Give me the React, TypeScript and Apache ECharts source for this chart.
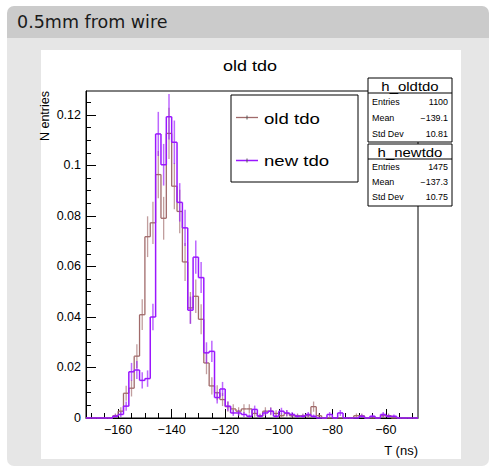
import React, { useEffect, useRef } from "react";
import * as echarts from "echarts";

// ---- data ----
const BIN_START = -172;
const BIN_WIDTH = 2;
const X_MIN = -172;
const X_MAX = -48;
const Y_MAX = 0.1295;
const OLD_ENTRIES = 1100;
const NEW_ENTRIES = 1475;

const oldTdo = [
  0, 0, 0, 0, 0, 0.0009, 0.0027, 0.0098, 0.0118, 0.0245,
  0.0409, 0.0718, 0.0773, 0.0964, 0.0791, 0.1127, 0.0918, 0.0818, 0.0618, 0.0436,
  0.0482, 0.0391, 0.0218, 0.0127, 0.01, 0.0073, 0.0045, 0.0036, 0.0027, 0.0036,
  0.0036, 0.0018, 0.0009, 0.0027, 0.0027, 0.0018, 0.0009, 0.0018, 0.0009, 0.0009,
  0.0009, 0.0009, 0.0045, 0.0009, 0, 0, 0, 0, 0, 0,
  0.0009, 0.0009, 0, 0, 0, 0.0009, 0.0009, 0, 0, 0,
  0, 0,
];
const newTdo = [
  0, 0, 0, 0, 0, 0.0007, 0.0014, 0.0047, 0.0183, 0.019,
  0.0149, 0.0156, 0.04, 0.1125, 0.1003, 0.1193, 0.1092, 0.0854, 0.0753, 0.0427,
  0.0637, 0.0556, 0.0258, 0.0264, 0.0081, 0.0115, 0.0047, 0.002, 0.002, 0.0014,
  0.0007, 0.0034, 0.0007, 0.002, 0.0027, 0.0007, 0.0027, 0.002, 0.0014, 0.0007,
  0.0007, 0.0014, 0.0007, 0, 0, 0.0014, 0, 0.002, 0, 0,
  0, 0.0007, 0, 0.0007, 0, 0.0014, 0.0007, 0.0007, 0, 0,
  0, 0,
];

const xMajorTicks = [-160, -140, -120, -100, -80, -60];
const xMinorTicks = [
  -170, -165, -160, -155, -150, -145, -140, -135, -130, -125, -120, -115, -110,
  -105, -100, -95, -90, -85, -80, -75, -70, -65, -60, -55, -50,
];
const yMajorTicks = [0, 0.02, 0.04, 0.06, 0.08, 0.1, 0.12];
const yMinorTicks = [
  0.005, 0.01, 0.015, 0.025, 0.03, 0.035, 0.045, 0.05, 0.055, 0.065, 0.07,
  0.075, 0.085, 0.09, 0.095, 0.105, 0.11, 0.115, 0.125,
];

const oldStats = [
  ["Entries", "1100"],
  ["Mean", "\u2212139.1"],
  ["Std Dev", "10.81"],
];
const newStats = [
  ["Entries", "1475"],
  ["Mean", "\u2212137.3"],
  ["Std Dev", "10.75"],
];

const OLD_COLOR = "#a06a6a";
const NEW_COLOR = "#9a16ff";
const SANS = "Liberation Sans";

function buildBins(values: number[], entries: number) {
  return values.map((v, i) => {
    const lo = BIN_START + i * BIN_WIDTH;
    const prev = i > 0 ? values[i - 1] : 0;
    const err = v > 0 ? Math.sqrt(v / entries) : 0;
    return [lo, lo + BIN_WIDTH, v, prev, err];
  });
}

function histSeries(name: string, values: number[], entries: number, color: string, lw: number, z: number) {
  return {
    type: "custom",
    name,
    z,
    clip: false,
    data: buildBins(values, entries),
    encode: { x: [0, 1], y: 2 },
    renderItem: (params: any, api: any) => {
      const lo = api.value(0);
      const hi = api.value(1);
      const v = api.value(2);
      const prev = api.value(3);
      const err = api.value(4);
      const a = api.coord([lo, v]);
      const b = api.coord([hi, v]);
      const p = api.coord([lo, prev]);
      const children: any[] = [
        { type: "line", shape: { x1: a[0], y1: a[1], x2: b[0], y2: b[1] }, style: { stroke: color, lineWidth: lw } },
        { type: "line", shape: { x1: p[0], y1: p[1], x2: a[0], y2: a[1] }, style: { stroke: color, lineWidth: lw } },
      ];
      if (err > 0) {
        const mid = (lo + hi) / 2;
        const t = api.coord([mid, v + err]);
        const bt = api.coord([mid, Math.max(0, v - err)]);
        children.push({
          type: "line",
          shape: { x1: t[0], y1: t[1], x2: bt[0], y2: bt[1] },
          style: { stroke: color, lineWidth: lw, opacity: 0.65 },
        });
      }
      return { type: "group", children };
    },
  };
}

function fmtX(v: number) {
  return v < 0 ? "\u2212" + Math.abs(v) : String(v);
}

function statBox(title: string, rows: string[][], top: number, rowStep: number, height: number) {
  const left = 368;
  const width = 84;
  const titleH = 15;
  const els: any[] = [
    { type: "rect", z: 100, shape: { x: left, y: top, width, height }, style: { fill: "#fff", stroke: "#000", lineWidth: 1 } },
    { type: "line", z: 101, shape: { x1: left, y1: top + titleH, x2: left + width, y2: top + titleH }, style: { stroke: "#000", lineWidth: 1 } },
    {
      type: "text", z: 102, x: left + width / 2, y: top + titleH / 2 + 0.5, scaleX: 1.15,
      style: { text: title, fontFamily: SANS, fontSize: 13, fill: "#000", align: "center", verticalAlign: "middle" },
    },
  ];
  rows.forEach((r, i) => {
    const y = top + titleH + rowStep * (i + 0.5) + 1;
    els.push({
      type: "text", z: 102, x: left + 4, y, scaleX: 1.05,
      style: { text: r[0], fontFamily: SANS, fontSize: 8.5, fill: "#000", align: "left", verticalAlign: "middle" },
    });
    els.push({
      type: "text", z: 102, x: left + width - 4, y, scaleX: 1.05,
      style: { text: r[1], fontFamily: SANS, fontSize: 8.5, fill: "#000", align: "right", verticalAlign: "middle" },
    });
  });
  return els;
}

export default function App() {
  const ref = useRef<HTMLDivElement>(null);
  useEffect(() => {
    if (!ref.current) return;
    const chart = echarts.init(ref.current, null, { renderer: "svg" });
    const legendX = 231;
    const legendY = 95;
    const graphic: any[] = [
      { type: "rect", z: -10, shape: { x: 7, y: 6, width: 482, height: 32, r: [7, 7, 0, 0] }, style: { fill: "#cbcbcb" } },
      { type: "rect", z: -10, shape: { x: 7, y: 38, width: 482, height: 428, r: [0, 0, 7, 7] }, style: { fill: "#e6e6e6" } },
      { type: "rect", z: -9, shape: { x: 41, y: 50, width: 420, height: 409 }, style: { fill: "#ffffff" } },
      {
        type: "text", z: 5, x: 17, y: 22,
        style: { text: "0.5mm from wire", fontFamily: "DejaVu Sans", fontSize: 17.5, fill: "#1a1a1a", align: "left", verticalAlign: "middle" },
      },
      {
        type: "text", z: 5, x: 250, y: 66, scaleX: 1.2,
        style: { text: "old tdo", fontFamily: SANS, fontSize: 15, fill: "#000", align: "center", verticalAlign: "middle" },
      },
      {
        type: "text", z: 5, x: 45, y: 91, rotation: Math.PI / 2,
        style: { text: "N entries", fontFamily: SANS, fontSize: 12.5, fill: "#000", align: "right", verticalAlign: "middle" },
      },
      {
        type: "text", z: 5, x: 418, y: 450,
        style: { text: "T (ns)", fontFamily: SANS, fontSize: 13, fill: "#000", align: "right", verticalAlign: "middle" },
      },
      // legend
      { type: "rect", z: 100, shape: { x: legendX, y: legendY, width: 127, height: 87 }, style: { fill: "#fff", stroke: "#000", lineWidth: 1 } },
      { type: "line", z: 101, shape: { x1: 236, y1: 117.5, x2: 258, y2: 117.5 }, style: { stroke: OLD_COLOR, lineWidth: 1.3 } },
      { type: "line", z: 101, shape: { x1: 247, y1: 115.5, x2: 247, y2: 119.5 }, style: { stroke: "#555", lineWidth: 1 } },
      { type: "line", z: 101, shape: { x1: 236, y1: 160.5, x2: 258, y2: 160.5 }, style: { stroke: NEW_COLOR, lineWidth: 1.5 } },
      { type: "line", z: 101, shape: { x1: 247, y1: 158.5, x2: 247, y2: 162.5 }, style: { stroke: "#555", lineWidth: 1 } },
      {
        type: "text", z: 102, x: 264, y: 119.5, scaleX: 1.2,
        style: { text: "old tdo", fontFamily: SANS, fontSize: 15.5, fill: "#000", align: "left", verticalAlign: "middle" },
      },
      {
        type: "text", z: 102, x: 264, y: 161, scaleX: 1.2,
        style: { text: "new tdo", fontFamily: SANS, fontSize: 15.5, fill: "#000", align: "left", verticalAlign: "middle" },
      },
      ...statBox("h_oldtdo", oldStats, 78, 16, 64),
      ...statBox("h_newtdo", newStats, 144, 15, 62),
    ];

    chart.setOption({
      animation: false,
      grid: {
        left: 86, top: 91, width: 332, height: 327,
        show: true, borderColor: "#000", borderWidth: 1, backgroundColor: "transparent",
      },
      xAxis: [
        {
          type: "value", min: X_MIN, max: X_MAX, position: "bottom",
          axisLine: { show: true, onZero: false, lineStyle: { color: "#000", width: 1 } },
          axisTick: { show: true, inside: true, length: 9, customValues: xMajorTicks, lineStyle: { color: "#000" } },
          axisLabel: {
            show: true, customValues: xMajorTicks, formatter: fmtX, margin: 5,
            fontFamily: SANS, fontSize: 12.5, color: "#000",
          },
          splitLine: { show: false },
        },
        {
          type: "value", min: X_MIN, max: X_MAX, position: "bottom",
          axisLine: { show: false },
          axisTick: { show: true, inside: true, length: 5, customValues: xMinorTicks, lineStyle: { color: "#000" } },
          axisLabel: { show: false },
          splitLine: { show: false },
        },
      ],
      yAxis: [
        {
          type: "value", min: 0, max: Y_MAX, position: "left",
          axisLine: { show: true, onZero: false, lineStyle: { color: "#000", width: 1 } },
          axisTick: { show: true, inside: true, length: 10, customValues: yMajorTicks, lineStyle: { color: "#000" } },
          axisLabel: {
            show: true, customValues: yMajorTicks, margin: 5,
            fontFamily: SANS, fontSize: 12.5, color: "#000",
          },
          splitLine: { show: false },
        },
        {
          type: "value", min: 0, max: Y_MAX, position: "left",
          axisLine: { show: false },
          axisTick: { show: true, inside: true, length: 5, customValues: yMinorTicks, lineStyle: { color: "#000" } },
          axisLabel: { show: false },
          splitLine: { show: false },
        },
      ],
      series: [
        histSeries("old tdo", oldTdo, OLD_ENTRIES, OLD_COLOR, 1.3, 2),
        histSeries("new tdo", newTdo, NEW_ENTRIES, NEW_COLOR, 1.5, 3),
      ],
      graphic: { elements: graphic },
    });
    return () => chart.dispose();
  }, []);
  return (
    <div
      ref={ref}
      style={{ position: "absolute", left: 0, top: 0, width: 491, height: 467 }}
    />
  );
}
